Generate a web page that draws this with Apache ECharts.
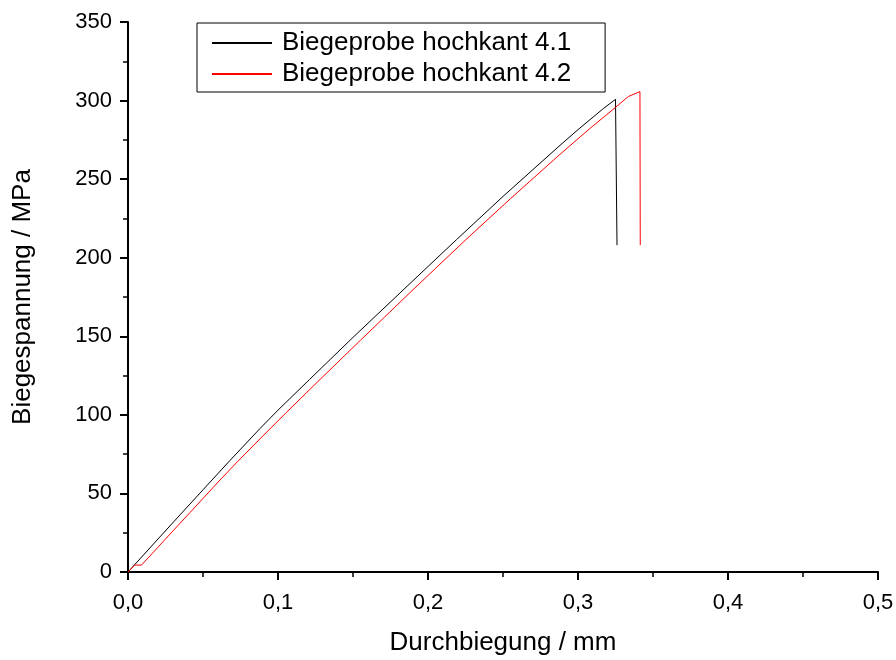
<!DOCTYPE html>
<html>
<head>
<meta charset="utf-8">
<script src="https://cdn.jsdelivr.net/npm/echarts@6/dist/echarts.min.js"></script>
<style>
  html, body { margin: 0; padding: 0; background: #fff; }
  #chart { width: 896px; height: 660px; }
</style>
</head>
<body>
<div id="chart"></div>
<script>
// Bending test results: deflection (mm) vs. bending stress (MPa)
const seriesNames = ['Biegeprobe hochkant 4.1', 'Biegeprobe hochkant 4.2'];

const deflection41 = [0, 0.02, 0.035, 0.05, 0.068, 0.088, 0.1, 0.121, 0.15, 0.188, 0.2, 0.219, 0.25, 0.288, 0.3, 0.317, 0.325, 0.326];
const stress41     = [0, 21, 36.7, 52.3, 71, 91.3, 103, 122.5, 149.3, 183.6, 194.4, 211.5, 239, 271.5, 281.5, 295, 300.8, 208];

const deflection42 = [0, 0.0045, 0.009, 0.02, 0.03, 0.0413, 0.0613, 0.0733, 0.0893, 0.105, 0.1267, 0.155, 0.188, 0.205, 0.2247, 0.255, 0.288, 0.308, 0.3233, 0.3336, 0.3413, 0.3415];
const stress42     = [0, 4.4, 4.4, 15.8, 26.2, 37.8, 58.5, 70.5, 86, 101, 121.3, 147.5, 177.8, 193.2, 211, 237.6, 265.8, 282.3, 294.3, 302.6, 305.7, 208];

const xTicks = { min: 0, max: 0.5, interval: 0.1 };
const yTicks = { min: 0, max: 350, interval: 50 };

const pairs = (xs, ys) => xs.map((x, i) => [x, ys[i]]);

const font = 'Liberation Sans, Arial, sans-serif';
const chart = echarts.init(document.getElementById('chart'), null, { renderer: 'canvas' });

chart.setOption({
  animation: false,
  backgroundColor: '#fff',
  grid: { left: 128, right: 18, top: 22, bottom: 88, containLabel: false, outerBoundsMode: 'none' },
  legend: {
    left: 197, top: 23,
    orient: 'vertical',
    data: seriesNames,
    itemWidth: 60, itemHeight: 2, itemGap: 5,
    padding: [7, 34, 5, 15],
    borderColor: '#000', borderWidth: 1,
    textStyle: { fontFamily: font, fontSize: 26, color: '#000', padding: [0, 0, 0, 5] },
    icon: 'rect'
  },
  xAxis: {
    type: 'value',
    min: xTicks.min, max: xTicks.max, interval: xTicks.interval,
    name: 'Durchbiegung / mm',
    nameLocation: 'middle', nameGap: 58,
    nameTextStyle: { fontFamily: font, fontSize: 26, color: '#000' },
    axisLine: { show: true, onZero: false, lineStyle: { color: '#000', width: 2 } },
    axisTick: { show: true, length: 8, lineStyle: { color: '#000', width: 2 } },
    minorTick: { show: true, splitNumber: 2, length: 5, lineStyle: { color: '#000', width: 1.5 } },
    splitLine: { show: false },
    axisLabel: {
      fontFamily: font, fontSize: 22, color: '#000', margin: 20,
      formatter: v => v.toFixed(1).replace('.', ',')
    }
  },
  yAxis: {
    type: 'value',
    min: yTicks.min, max: yTicks.max, interval: yTicks.interval,
    name: 'Biegespannung / MPa',
    nameLocation: 'middle', nameGap: 92,
    nameTextStyle: { fontFamily: font, fontSize: 26, color: '#000' },
    axisLine: { show: true, onZero: false, lineStyle: { color: '#000', width: 2 } },
    axisTick: { show: true, length: 8, lineStyle: { color: '#000', width: 2 } },
    minorTick: { show: true, splitNumber: 2, length: 5, lineStyle: { color: '#000', width: 1.5 } },
    splitLine: { show: false },
    axisLabel: { fontFamily: font, fontSize: 22, color: '#000', margin: 16 }
  },
  series: [
    {
      name: seriesNames[0], type: 'line', showSymbol: false, symbol: 'none',
      data: pairs(deflection41, stress41),
      lineStyle: { color: '#000', width: 1 }, itemStyle: { color: '#000' }
    },
    {
      name: seriesNames[1], type: 'line', showSymbol: false, symbol: 'none',
      data: pairs(deflection42, stress42),
      lineStyle: { color: '#ff0000', width: 1 }, itemStyle: { color: '#ff0000' }
    }
  ]
});
</script>
</body>
</html>
